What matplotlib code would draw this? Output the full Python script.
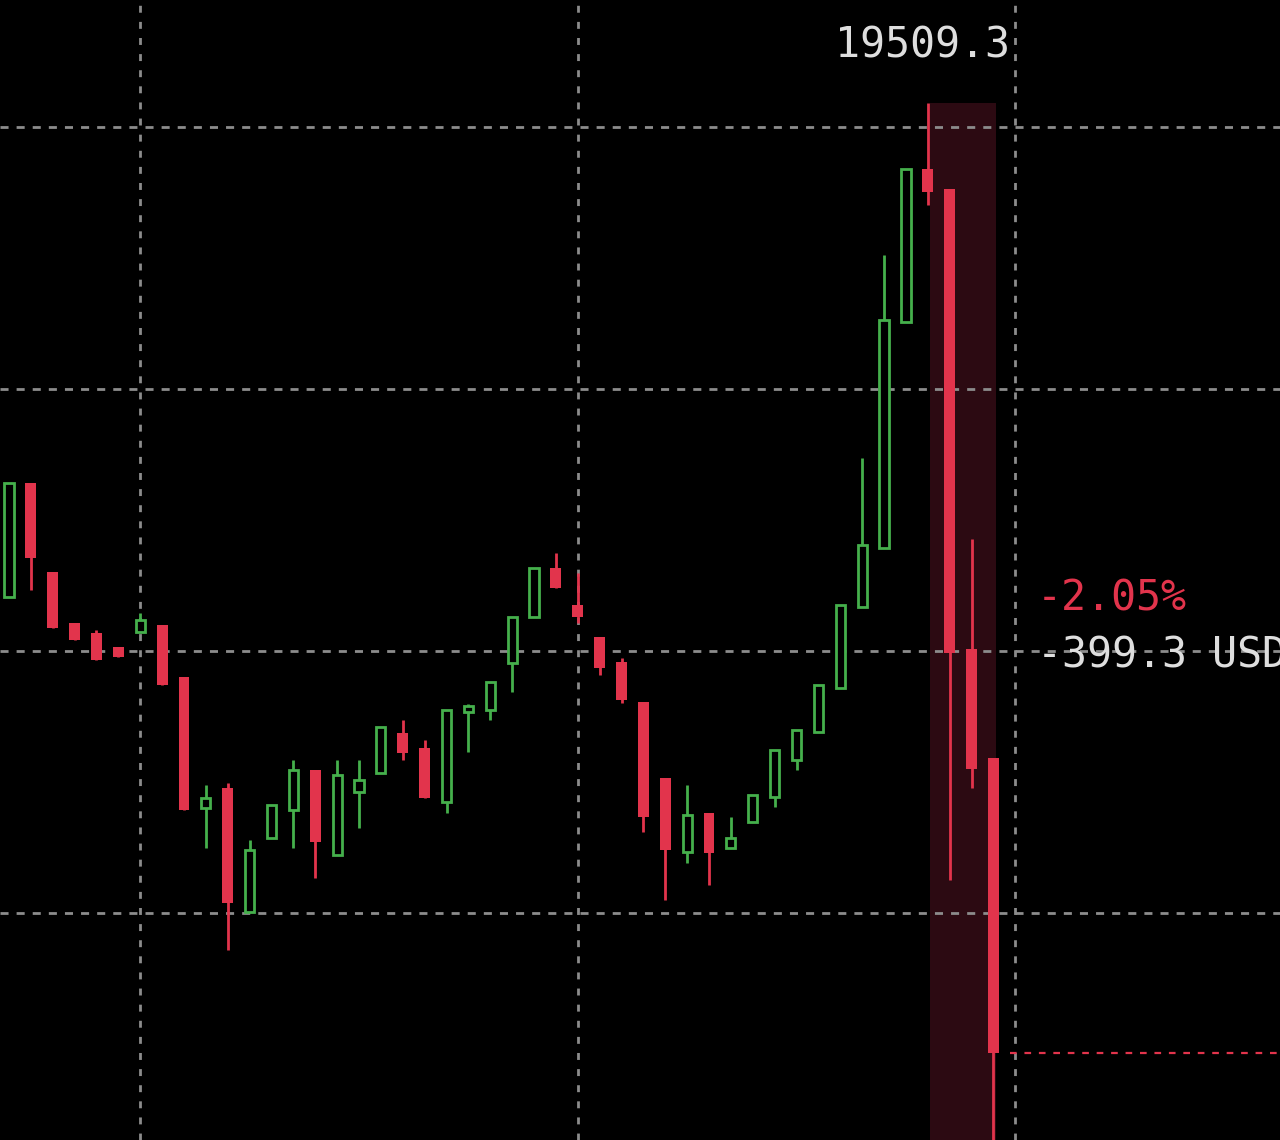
import matplotlib.pyplot as plt
from matplotlib.patches import Rectangle

# candle data (index = bar number), prices
opens = [19320.6, 19364.1, 19330.2, 19310.7, 19306.9, 19301.5, 19307.3, 19309.9, 19290.1, 19240.1,
         19247.7, 19200.4, 19228.6, 19239.3, 19254.6, 19222.1, 19246.2, 19253.4, 19268.7, 19263.0,
         19242.4, 19276.7, 19277.5, 19295.4, 19313.0, 19331.7, 19317.6, 19305.3, 19295.8, 19280.5,
         19251.5, 19223.3, 19238.2, 19224.8, 19234.7, 19244.3, 19258.4, 19269.1, 19285.9, 19316.8,
         19339.3, 19425.6, 19484.0, 19476.3, 19300.8, 19259.2]
closes = [19364.1, 19335.5, 19308.8, 19304.2, 19296.6, 19297.7, 19311.8, 19287.0, 19239.3, 19243.9,
          19203.8, 19224.0, 19241.2, 19254.6, 19227.1, 19252.7, 19250.8, 19271.0, 19261.1, 19243.9,
          19277.5, 19279.0, 19288.2, 19313.0, 19331.7, 19324.0, 19313.0, 19293.5, 19281.3, 19236.6,
          19224.0, 19237.4, 19222.9, 19228.6, 19245.0, 19262.2, 19269.8, 19287.0, 19317.6, 19340.5,
          19426.3, 19484.0, 19475.2, 19299.2, 19255.0, 19146.6]
highs = [19364.1, 19364.1, 19330.2, 19310.7, 19308.0, 19301.5, 19314.5, 19309.9, 19290.1, 19248.9,
         19249.6, 19227.9, 19241.2, 19258.4, 19254.6, 19258.4, 19258.4, 19271.0, 19273.7, 19266.0,
         19277.5, 19279.8, 19288.2, 19313.0, 19331.7, 19337.4, 19329.8, 19305.3, 19297.3, 19280.5,
         19251.5, 19248.9, 19238.2, 19236.6, 19245.0, 19262.2, 19269.8, 19287.0, 19317.6, 19373.7,
         19451.1, 19484.0, 19509.3, 19476.3, 19342.7, 19259.2]
lows = [19320.6, 19323.3, 19308.8, 19304.2, 19296.6, 19297.7, 19307.3, 19287.0, 19239.3, 19224.8,
        19185.9, 19200.4, 19228.6, 19224.8, 19213.4, 19222.1, 19232.4, 19253.4, 19258.4, 19243.9,
        19238.2, 19261.5, 19273.7, 19284.4, 19313.0, 19324.0, 19310.7, 19290.8, 19280.2, 19230.9,
        19205.0, 19219.1, 19210.7, 19224.8, 19234.7, 19240.5, 19254.6, 19269.1, 19285.9, 19316.8,
        19339.3, 19425.6, 19470.2, 19212.6, 19247.7, 19110.0]

grid_prices = [19500, 19400, 19300, 19200]
grid_bars = [6, 26, 46]

measure_high = 19509.3
measure_low = 19110.0
measure_from, measure_to = 42.1, 45.1
last_close = closes[-1]
change_usd = -399.3
change_pct = -2.05

GREEN = '#45b04c'
RED = '#e2344c'
GRID = '#8c8c8c'
TEXT = '#dedede'

fig = plt.figure(figsize=(12.8, 11.4), dpi=100)
fig.patch.set_facecolor('black')
ax = fig.add_axes([0, 0, 1, 1])
ax.set_facecolor('black')
ax.set_xlim(-0.41, 58.1)
ax.set_ylim(19113.4, 19548.5)
ax.axis('off')

# grid
for p in grid_prices:
    ax.axhline(p, color=GRID, lw=2, ls=(0, (2.9, 2.9)), zorder=1)
for b in grid_bars:
    ax.axvline(b, color=GRID, lw=2, ls=(0, (2.5, 3.3)), zorder=1)

# measurement highlight
ax.add_patch(Rectangle((measure_from, 19000), measure_to - measure_from, measure_high - 19000,
                       facecolor='#2c0a12', edgecolor='none', zorder=0.5))

# candles
w = 0.5
for i, (o, c, h, l) in enumerate(zip(opens, closes, highs, lows)):
    top, bot = max(o, c), min(o, c)
    if c >= o:
        ax.plot([i, i], [top, h], color=GREEN, lw=2, solid_capstyle='butt', zorder=3)
        ax.plot([i, i], [l, bot], color=GREEN, lw=2, solid_capstyle='butt', zorder=3)
        ax.add_patch(Rectangle((i - 0.42 / 2, bot), 0.42, max(top - bot, 1.5),
                               facecolor='black', edgecolor=GREEN, lw=2, zorder=3))
    else:
        ax.plot([i, i], [l, h], color=RED, lw=2, solid_capstyle='butt', zorder=3)
        ax.add_patch(Rectangle((i - w / 2, bot), w, max(top - bot, 1.5),
                               facecolor=RED, edgecolor='none', zorder=3))

# last price line
ax.plot([45.75, 60], [last_close, last_close], color=RED, lw=1.6, ls=(0, (3, 3.5)), zorder=2)

# labels
ax.text(0.789, 0.9605, f'{measure_high:.1f}', transform=ax.transAxes, ha='right', va='center',
        color=TEXT, fontsize=30, family='DejaVu Sans Mono')
ax.text(0.81, 0.4754, f'{change_pct:.2f}%', transform=ax.transAxes, ha='left', va='center',
        color=RED, fontsize=30, family='DejaVu Sans Mono')
ax.text(0.81, 0.4254, f'{change_usd:.1f} USD', transform=ax.transAxes, ha='left', va='center',
        color=TEXT, fontsize=30, family='DejaVu Sans Mono')

plt.savefig('out.png', dpi=100, facecolor='black')
plt.close()
